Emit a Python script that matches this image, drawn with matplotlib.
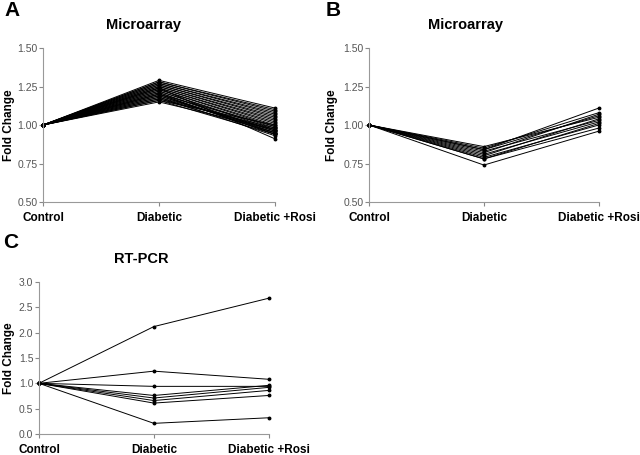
import numpy as np
import matplotlib.pyplot as plt

plt.rcParams['font.family'] = ['Liberation Sans', 'DejaVu Sans']

groups = ["Control", "Diabetic", "Diabetic +Rosi"]

# panel A: microarray genes up in diabetic
a_control = [1.00] * 30
a_diabetic = [1.29, 1.28, 1.28, 1.27, 1.27, 1.26, 1.26, 1.25, 1.25, 1.24,
              1.24, 1.23, 1.23, 1.22, 1.22, 1.21, 1.21, 1.20, 1.20, 1.19,
              1.19, 1.18, 1.18, 1.17, 1.17, 1.16, 1.16, 1.15, 1.24, 1.20]
a_rosi = [1.11, 1.10, 1.09, 1.08, 1.07, 1.06, 1.05, 1.04, 1.03, 1.02,
          1.01, 1.00, 0.99, 0.98, 0.97, 0.96, 0.95, 0.94, 0.94, 0.95,
          0.96, 0.93, 0.97, 0.98, 0.95, 0.94, 1.00, 0.97, 0.91, 0.99]

# panel B: microarray genes down in diabetic
b_control = [1.00] * 12
b_diabetic = [0.86, 0.85, 0.84, 0.84, 0.83, 0.82, 0.81, 0.80, 0.79, 0.78, 0.78, 0.74]
b_rosi = [1.05, 1.08, 1.11, 1.06, 1.03, 1.07, 1.02, 1.04, 1.00, 1.01, 0.98, 0.96]

# panel C: RT-PCR
c_control = [1.00] * 8
c_diabetic = [2.12, 1.24, 0.94, 0.76, 0.71, 0.66, 0.61, 0.21]
c_rosi = [2.68, 1.08, 0.94, 0.96, 0.92, 0.86, 0.76, 0.32]


def draw_panel(ax, ctrl, diab, rosi, yticks, fmt, title, title_x, ylab_px):
    x = np.arange(len(groups))
    for c, d, r in zip(ctrl, diab, rosi):
        ax.plot(x, [c, d, r], color='black', lw=0.7, marker='o', ms=1.8,
                clip_on=False)
    ax.set_xlim(0, 2)
    ax.set_ylim(yticks[0], yticks[-1])
    ax.set_yticks(yticks)
    ax.set_yticklabels([fmt.format(v) for v in yticks], fontsize=7.5, color='#555555')
    ax.set_xticks(x)
    ax.set_xticklabels(groups, fontsize=8.5, fontweight='bold')
    ax.tick_params(axis='x', length=3, pad=4, color='#888888')
    ax.tick_params(axis='y', length=3, pad=1, color='#888888')
    for s in ['top', 'right']:
        ax.spines[s].set_visible(False)
    for s in ['left', 'bottom']:
        ax.spines[s].set_color('#999999')
        ax.spines[s].set_linewidth(0.8)
    ax.set_ylabel("Fold Change", fontsize=8.5, fontweight='bold', va='center')
    # place the y label at a fixed pixel column
    pos = ax.get_position()
    ax.yaxis.set_label_coords((ylab_px / 640 - pos.x0) / pos.width, 0.5)
    ax.text(title_x, 1.15, title, transform=ax.transAxes, ha='center', va='center',
            fontsize=10.5, fontweight='bold')


fig = plt.figure(figsize=(6.4, 4.55), dpi=100)
ax_a = fig.add_axes([0.0672, 0.556, 0.3625, 0.3385])
ax_b = fig.add_axes([0.5766, 0.556, 0.359, 0.3385])
ax_c = fig.add_axes([0.0609, 0.0462, 0.359, 0.334])

draw_panel(ax_a, a_control, a_diabetic, a_rosi, [0.5, 0.75, 1.0, 1.25, 1.5],
           "{:.2f}", "Microarray", 0.435, 9)
draw_panel(ax_b, b_control, b_diabetic, b_rosi, [0.5, 0.75, 1.0, 1.25, 1.5],
           "{:.2f}", "Microarray", 0.42, 332)
draw_panel(ax_c, c_control, c_diabetic, c_rosi, [0.0, 0.5, 1.0, 1.5, 2.0, 2.5, 3.0],
           "{:.1f}", "RT-PCR", 0.443, 9)

# panel letters
for letter, px, py in [("A", 12, 11), ("B", 333, 11), ("C", 11, 242)]:
    fig.text(px / 640, 1 - py / 455, letter, ha='center', va='center',
             fontsize=15, fontweight='bold')

fig.savefig("out.png", dpi=100)
